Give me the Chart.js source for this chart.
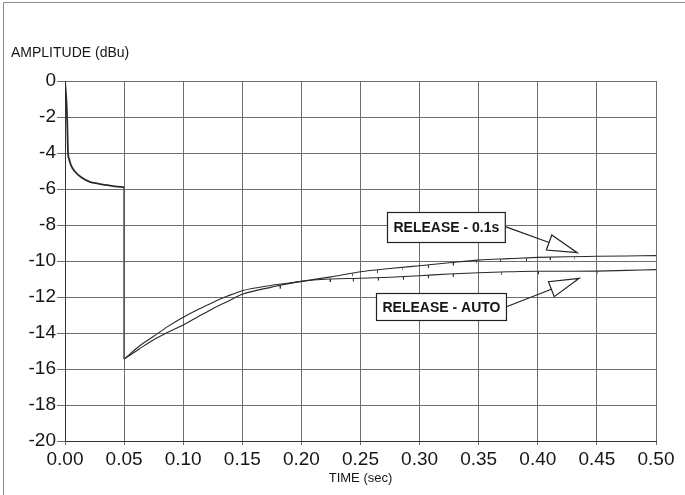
<!DOCTYPE html>
<html>
<head>
<meta charset="utf-8">
<script src="https://cdn.jsdelivr.net/npm/chart.js@4.4.1/dist/chart.umd.min.js"></script>
<style>
  html, body { margin: 0; padding: 0; background: #fff; }
  canvas { display: block; }
</style>
</head>
<body>
<canvas id="c" width="685" height="495"></canvas>
<script>
// Axis tick labels
const xTickLabels = ['0.00', '0.05', '0.10', '0.15', '0.20', '0.25', '0.30', '0.35', '0.40', '0.45', '0.50'];
const yTickLabels = ['-20', '-18', '-16', '-14', '-12', '-10', '-8', '-6', '-4', '-2', '0'];

// Attack portion (identical for both release settings), time in s, level in dBu
const attackTime  = [0, 0.0015, 0.002, 0.0025, 0.0035, 0.0052, 0.008, 0.0137, 0.021, 0.028, 0.035, 0.042, 0.05];
const attackLevel = [0, -1.5, -2.6, -3.9, -4.35, -4.7, -5.0, -5.35, -5.6, -5.7, -5.78, -5.85, -5.9];

// Release portion after the level step
const releaseTime = [0.05, 0.0625, 0.075, 0.0875, 0.10, 0.1125, 0.125, 0.1375, 0.15, 0.175, 0.20, 0.225,
                     0.25, 0.275, 0.30, 0.325, 0.35, 0.375, 0.40, 0.425, 0.45, 0.475, 0.50];
const release01Level = [-15.45, -14.75, -14.18, -13.62, -13.13, -12.7, -12.3, -11.95, -11.65, -11.35, -11.13, -10.88,
                        -10.6, -10.42, -10.26, -10.1, -9.95, -9.87, -9.8, -9.76, -9.74, -9.72, -9.7];
const releaseAutoLevel = [-15.45, -14.9, -14.37, -13.95, -13.55, -13.1, -12.65, -12.25, -11.85, -11.45, -11.13, -11.0,
                          -10.96, -10.9, -10.82, -10.72, -10.65, -10.6, -10.57, -10.57, -10.56, -10.52, -10.48];

// Short downward glitches on the recorded traces
const glitch01Time  = [0.243, 0.264, 0.2855, 0.307, 0.328, 0.348, 0.368, 0.39, 0.41, 0.431];
const glitch01Level = [-10.68, -10.5, -10.35, -10.22, -10.08, -9.96, -9.89, -9.83, -9.78, -9.76];
const glitchAutoTime  = [0.1815, 0.2238, 0.2435, 0.2646, 0.2858, 0.307, 0.328, 0.369, 0.40, 0.4505];
const glitchAutoLevel = [-11.37, -11.0, -10.97, -10.92, -10.87, -10.79, -10.71, -10.61, -10.57, -10.56];

const calloutText = ['RELEASE - 0.1s', 'RELEASE - AUTO'];

// Callout boxes and arrow tips, placed in data units
const callouts = [
  { text: calloutText[0], box: { t: 0.3226, v: -8.09 }, tip: { t: 0.4334, v: -9.54 }, h: 30 },
  { text: calloutText[1], box: { t: 0.3178, v: -12.54 }, tip: { t: 0.4351, v: -10.96 }, h: 27 }
];

const FONT = '"Liberation Sans", Arial, Helvetica, sans-serif';
const INK = '#161616';
const TRACE = '#2a2a2a';

const pts = (xs, ys) => xs.map((x, i) => ({ x, y: ys[i] }));

// Small tick image used for the glitch marks: hangs down from the point
function makeGlitchMark() {
  const c = document.createElement('canvas');
  c.width = 2; c.height = 8;
  const g = c.getContext('2d');
  g.fillStyle = '#333';
  g.fillRect(1, 4, 1, 3);
  return c;
}
const glitchMark = makeGlitchMark();

const decorations = {
  id: 'decorations',
  afterDraw(chart) {
    const { ctx, scales: { x, y } } = chart;
    ctx.save();

    // sheet frame
    ctx.strokeStyle = '#8c8c8c';
    ctx.lineWidth = 1;
    ctx.beginPath();
    ctx.moveTo(3.5, 495);
    ctx.lineTo(3.5, 2.5);
    ctx.lineTo(685, 2.5);
    ctx.stroke();

    // axis titles
    ctx.fillStyle = INK;
    ctx.font = '14px ' + FONT;
    ctx.textAlign = 'left';
    ctx.textBaseline = 'alphabetic';
    ctx.fillText('AMPLITUDE (dBu)', 11, 56.5);

    ctx.font = '13px ' + FONT;
    ctx.textAlign = 'center';
    ctx.textBaseline = 'middle';
    ctx.fillText('TIME (sec)', (x.left + x.right) / 2, 478);

    // callouts with hollow arrows
    ctx.font = 'bold 14px ' + FONT;
    ctx.lineWidth = 1.2;
    ctx.strokeStyle = '#222';
    callouts.forEach(c => {
      const cx = x.getPixelForValue(c.box.t);
      const cy = y.getPixelForValue(c.box.v);
      const w = ctx.measureText(c.text).width + 12;
      const h = c.h;
      const bx = Math.round(cx - w / 2) + 0.5;
      const by = Math.round(cy - h / 2) + 0.5;

      const sx = bx + w, sy = cy;
      const tx = x.getPixelForValue(c.tip.t);
      const ty = y.getPixelForValue(c.tip.v);
      const a = Math.atan2(ty - sy, tx - sx);
      const L = 30, hw = 8;
      const mx = tx - L * Math.cos(a), my = ty - L * Math.sin(a);

      ctx.beginPath();
      ctx.moveTo(sx, sy);
      ctx.lineTo(mx, my);
      ctx.stroke();

      ctx.beginPath();
      ctx.moveTo(tx, ty);
      ctx.lineTo(mx - hw * Math.sin(a), my + hw * Math.cos(a));
      ctx.lineTo(mx + hw * Math.sin(a), my - hw * Math.cos(a));
      ctx.closePath();
      ctx.fillStyle = '#fff';
      ctx.fill();
      ctx.stroke();

      ctx.fillStyle = '#fff';
      ctx.fillRect(bx, by, w, h);
      ctx.strokeRect(bx, by, w, h);

      ctx.fillStyle = INK;
      ctx.textAlign = 'center';
      ctx.textBaseline = 'middle';
      ctx.fillText(c.text, bx + w / 2, by + h / 2 + 1);
    });

    ctx.restore();
  }
};

const traceLine = {
  type: 'line',
  borderColor: TRACE,
  borderWidth: 1.1,
  pointRadius: 0,
  fill: false,
  cubicInterpolationMode: 'monotone'
};

new Chart(document.getElementById('c'), {
  type: 'line',
  data: {
    datasets: [
      Object.assign({}, traceLine, { label: 'ATTACK', data: pts(attackTime, attackLevel), borderWidth: 1.8 }),
      Object.assign({}, traceLine, {
        label: 'STEP',
        data: [{ x: attackTime[attackTime.length - 1], y: attackLevel[attackLevel.length - 1] },
               { x: releaseTime[0], y: release01Level[0] }],
        cubicInterpolationMode: 'default', tension: 0, borderWidth: 1, borderColor: '#5a5a5a'
      }),
      Object.assign({}, traceLine, { label: calloutText[0], data: pts(releaseTime, release01Level) }),
      Object.assign({}, traceLine, { label: calloutText[1], data: pts(releaseTime, releaseAutoLevel) }),
      {
        type: 'scatter', label: 'glitch 0.1s', data: pts(glitch01Time, glitch01Level),
        pointStyle: glitchMark, pointRadius: 3, showLine: false
      },
      {
        type: 'scatter', label: 'glitch auto', data: pts(glitchAutoTime, glitchAutoLevel),
        pointStyle: glitchMark, pointRadius: 3, showLine: false
      }
    ]
  },
  options: {
    responsive: false,
    animation: false,
    devicePixelRatio: 1,
    layout: { padding: { left: 0, right: 29, top: 81, bottom: 0 } },
    plugins: { legend: { display: false }, tooltip: { enabled: false } },
    scales: {
      x: {
        type: 'linear',
        min: 0, max: 0.5,
        ticks: {
          stepSize: 0.05,
          autoSkip: false,
          maxRotation: 0,
          padding: 3,
          color: INK,
          font: { family: FONT, size: 19 },
          callback: (v, i) => xTickLabels[i]
        },
        grid: { color: '#6e6e6e', lineWidth: 1, tickLength: 4 },
        border: { color: '#333', width: 1 },
        afterFit(s) { s.height = 54; s.paddingLeft = 0; s.paddingRight = 0; }
      },
      y: {
        min: -20, max: 0,
        ticks: {
          stepSize: 2,
          padding: 1,
          color: INK,
          font: { family: FONT, size: 19 },
          callback: (v, i) => yTickLabels[i]
        },
        grid: { color: '#6e6e6e', lineWidth: 1, tickLength: 8 },
        border: { color: '#333', width: 1 },
        afterFit(s) { s.width = 65; s.paddingTop = 0; s.paddingBottom = 0; }
      }
    }
  },
  plugins: [decorations]
});
</script>
</body>
</html>
